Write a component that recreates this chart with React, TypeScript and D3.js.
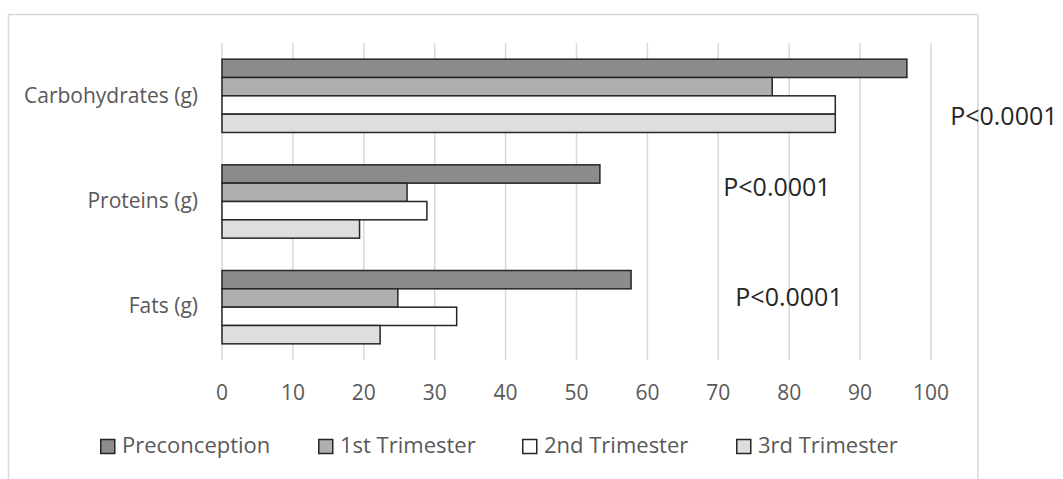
import React from "react";
import * as d3 from "d3";

const categories = ["Carbohydrates (g)", "Proteins (g)", "Fats (g)"];
const seriesNames = ["Preconception", "1st Trimester", "2nd Trimester", "3rd Trimester"];
const preconception = [96.6, 53.3, 57.7];
const trimester1 = [77.6, 26.1, 24.8];
const trimester2 = [86.5, 28.9, 33.1];
const trimester3 = [86.5, 19.4, 22.3];
const xTicks = [0, 10, 20, 30, 40, 50, 60, 70, 80, 90, 100];
const pLabels = ["P<0.0001", "P<0.0001", "P<0.0001"];
const pLabelX = [102.7, 70.7, 72.4];

const fills = ["#8c8c8c", "#afafaf", "#ffffff", "#dedede"];
const FONT = "'Open Sans', sans-serif";

export default function App() {
  const W = 1063, H = 479;
  const x = d3.scaleLinear().domain([0, 100]).range([222, 931]);
  const y = d3.scaleBand<string>().domain(categories).range([43, 360]).paddingInner(0.306).paddingOuter(0.153);
  const series = [preconception, trimester1, trimester2, trimester3];
  const inner = d3.scaleBand<number>().domain([0, 1, 2, 3]).range([0, y.bandwidth()]).padding(0);
  const labelBaseline = [103, 208, 313];
  const pBaseline = [125, 196, 306];
  const legendX = [100, 318, 522, 736];

  return (
    <div style={{ position: "absolute", left: 0, top: 0 }}>
      <svg width={W} height={H} style={{ display: "block" }}>
        <rect x={0} y={0} width={W} height={H} fill="#ffffff" />
        <path d={`M8.5,${H + 2} V14.5 H978 V${H + 2}`} fill="none" stroke="#d9d9d9" strokeWidth={1.5} />
        {xTicks.map((t) => (
          <line key={t} x1={x(t)} x2={x(t)} y1={43} y2={360} stroke="#d9d9d9" strokeWidth={1.5} />
        ))}
        {categories.map((c, ci) =>
          series.map((s, si) => (
            <rect
              key={c + si}
              x={x(0)}
              y={(y(c) as number) + (inner(si) as number)}
              width={x(s[ci]) - x(0)}
              height={inner.bandwidth()}
              fill={fills[si]}
              stroke="#262626"
              strokeWidth={1.5}
            />
          ))
        )}
        {xTicks.map((t) => (
          <text key={t} x={x(t)} y={399.5} textAnchor="middle" fontFamily={FONT} fontSize={21} fill="#595959">
            {t}
          </text>
        ))}
        {categories.map((c, ci) => (
          <text key={c} x={198} y={labelBaseline[ci]} textAnchor="end" fontFamily={FONT} fontSize={21} fill="#595959">
            {c}
          </text>
        ))}
        {pLabels.map((p, i) => (
          <text key={i} x={x(pLabelX[i])} y={pBaseline[i]} fontFamily={FONT} fontSize={25} fill="#262626">
            {p}
          </text>
        ))}
        {seriesNames.map((n, i) => (
          <g key={n}>
            <rect x={legendX[i] + 0.75} y={439.5} width={14} height={14} fill={fills[i]} stroke="#262626" strokeWidth={1.5} />
            <text x={legendX[i] + 22} y={453} fontFamily={FONT} fontSize={22} fill="#595959">
              {n}
            </text>
          </g>
        ))}
      </svg>
    </div>
  );
}
